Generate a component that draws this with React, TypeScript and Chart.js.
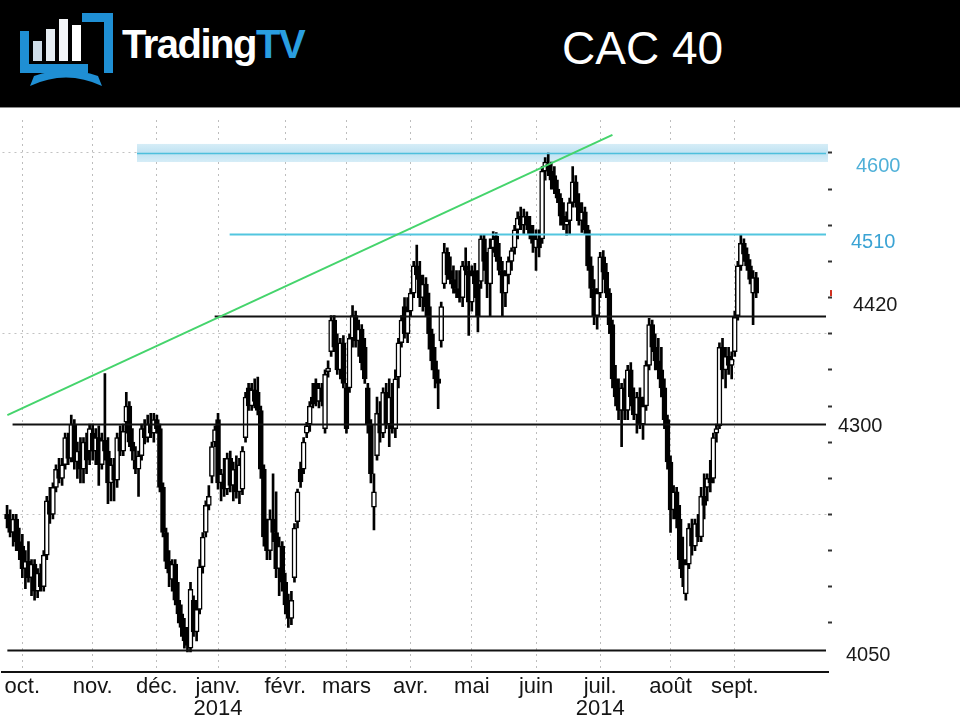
import React, { useEffect, useRef } from 'react';
import { Chart, registerables } from 'chart.js';

Chart.register(...registerables);

// [open, high, low, close]
type Candle = [number, number, number, number];

const sep2013: Candle[] = [
  [4200, 4210, 4185, 4195], [4195, 4205, 4175, 4180], [4180, 4200, 4165, 4195], [4195, 4200, 4160, 4170],
  [4170, 4185, 4150, 4160],
];
const oct2013: Candle[] = [
  [4165, 4178, 4130, 4140], [4140, 4160, 4118, 4148], [4148, 4170, 4125, 4130], [4130, 4150, 4110, 4145],
  [4145, 4150, 4105, 4115], [4115, 4140, 4108, 4135], [4135, 4145, 4115, 4120], [4120, 4160, 4115, 4155],
  [4155, 4220, 4150, 4215], [4215, 4230, 4190, 4200], [4200, 4235, 4195, 4230], [4230, 4255, 4225, 4250],
  [4250, 4262, 4235, 4240], [4240, 4262, 4232, 4255], [4255, 4290, 4250, 4285], [4285, 4290, 4255, 4262],
  [4262, 4310, 4258, 4300], [4300, 4305, 4250, 4258], [4258, 4280, 4240, 4270], [4270, 4285, 4235, 4250],
  [4250, 4285, 4235, 4280], [4280, 4290, 4245, 4260], [4270, 4300, 4255, 4295],
];
const nov2013: Candle[] = [
  [4290, 4300, 4260, 4270], [4270, 4295, 4255, 4285], [4285, 4298, 4232, 4255], [4255, 4290, 4250, 4282],
  [4282, 4356, 4260, 4270], [4270, 4285, 4212, 4235], [4235, 4262, 4215, 4255], [4255, 4262, 4215, 4238],
  [4238, 4290, 4230, 4285], [4285, 4298, 4265, 4270], [4270, 4300, 4265, 4292], [4302, 4335, 4290, 4320],
  [4320, 4325, 4275, 4280], [4280, 4295, 4260, 4270], [4260, 4275, 4245, 4250], [4250, 4270, 4220, 4265],
  [4265, 4300, 4260, 4295], [4295, 4305, 4278, 4285], [4285, 4310, 4280, 4300], [4300, 4312, 4285, 4290],
  [4290, 4312, 4280, 4305],
];
const dec2013: Candle[] = [
  [4305, 4310, 4290, 4295], [4295, 4300, 4225, 4230], [4230, 4235, 4175, 4180], [4180, 4185, 4140, 4148],
  [4148, 4160, 4120, 4135], [4128, 4150, 4115, 4145], [4145, 4150, 4100, 4105], [4105, 4125, 4080, 4090],
  [4090, 4100, 4065, 4075], [4075, 4085, 4052, 4060], [4060, 4075, 4048, 4055], [4052, 4125, 4048, 4117],
  [4105, 4110, 4065, 4070], [4070, 4105, 4060, 4095], [4095, 4150, 4090, 4142], [4142, 4180, 4135, 4175],
  [4180, 4215, 4175, 4210], [4210, 4232, 4205, 4220], [4242, 4280, 4235, 4275], [4280, 4298, 4275, 4294],
];
const jan2014: Candle[] = [
  [4305, 4312, 4228, 4235], [4235, 4250, 4215, 4245], [4245, 4262, 4220, 4228], [4228, 4268, 4222, 4262],
  [4262, 4270, 4225, 4232], [4232, 4258, 4215, 4250], [4250, 4265, 4218, 4225], [4225, 4262, 4212, 4255],
  [4228, 4275, 4222, 4270], [4285, 4335, 4280, 4330], [4340, 4345, 4315, 4320], [4320, 4345, 4315, 4338],
  [4338, 4350, 4318, 4325], [4335, 4352, 4310, 4315], [4315, 4320, 4240, 4250], [4250, 4255, 4165, 4175],
  [4175, 4195, 4150, 4160], [4160, 4205, 4150, 4195], [4195, 4245, 4170, 4180], [4180, 4225, 4130, 4140],
  [4140, 4175, 4110, 4165], [4165, 4170, 4115, 4125],
];
const feb2014: Candle[] = [
  [4125, 4135, 4090, 4100], [4100, 4112, 4075, 4085], [4085, 4115, 4078, 4105], [4130, 4190, 4125, 4185],
  [4192, 4228, 4185, 4225], [4250, 4258, 4230, 4236], [4250, 4285, 4245, 4280], [4290, 4302, 4285, 4298],
  [4300, 4325, 4292, 4320], [4330, 4345, 4318, 4322], [4345, 4350, 4320, 4325], [4325, 4345, 4318, 4340],
  [4340, 4345, 4320, 4325], [4295, 4360, 4290, 4355], [4358, 4370, 4352, 4362], [4380, 4420, 4375, 4415],
  [4415, 4420, 4380, 4385], [4385, 4400, 4355, 4360], [4360, 4395, 4350, 4390], [4390, 4398, 4340, 4345],
];
const mar2014: Candle[] = [
  [4340, 4345, 4290, 4295], [4340, 4400, 4335, 4395], [4395, 4431, 4385, 4420], [4420, 4425, 4385, 4392],
  [4392, 4415, 4375, 4405], [4405, 4410, 4360, 4368], [4385, 4395, 4345, 4350], [4340, 4345, 4290, 4300],
  [4300, 4305, 4235, 4245], [4208, 4245, 4183, 4225], [4265, 4330, 4260, 4312], [4312, 4325, 4280, 4290],
  [4290, 4340, 4285, 4335], [4335, 4345, 4295, 4300], [4300, 4350, 4275, 4330], [4330, 4345, 4290, 4295],
  [4295, 4360, 4285, 4350], [4352, 4395, 4340, 4390], [4390, 4420, 4385, 4415], [4430, 4440, 4395, 4400],
  [4400, 4440, 4390, 4425],
];
const apr2014: Candle[] = [
  [4425, 4450, 4420, 4445], [4445, 4480, 4440, 4475], [4475, 4498, 4460, 4465], [4465, 4480, 4430, 4440],
  [4440, 4465, 4425, 4455], [4455, 4462, 4420, 4430], [4430, 4445, 4383, 4400], [4400, 4405, 4360, 4370],
  [4370, 4385, 4340, 4350], [4350, 4360, 4317, 4345], [4392, 4435, 4385, 4430], [4455, 4500, 4450, 4490],
  [4490, 4495, 4460, 4465], [4470, 4485, 4455, 4460], [4460, 4475, 4445, 4450], [4450, 4470, 4440, 4445],
  [4445, 4470, 4435, 4440], [4440, 4480, 4430, 4475], [4475, 4495, 4465, 4470], [4470, 4480, 4398, 4435],
];
const may2014: Candle[] = [
  [4435, 4475, 4425, 4465], [4470, 4478, 4440, 4455], [4455, 4470, 4402, 4420], [4458, 4510, 4450, 4505],
  [4505, 4510, 4470, 4480], [4480, 4490, 4440, 4455], [4455, 4505, 4420, 4495], [4495, 4513, 4490, 4505],
  [4508, 4512, 4480, 4485], [4485, 4500, 4465, 4470], [4470, 4480, 4420, 4445], [4445, 4470, 4430, 4465],
  [4465, 4485, 4455, 4480], [4480, 4495, 4470, 4492], [4495, 4520, 4488, 4515], [4515, 4535, 4505, 4528],
  [4530, 4540, 4515, 4520], [4520, 4538, 4510, 4530], [4530, 4535, 4515, 4520], [4520, 4530, 4505, 4510],
  [4510, 4520, 4490, 4500],
];
const jun2014: Candle[] = [
  [4495, 4515, 4470, 4505], [4505, 4515, 4485, 4495], [4505, 4585, 4500, 4580], [4580, 4595, 4570, 4590],
  [4588, 4600, 4575, 4580], [4580, 4590, 4560, 4570], [4575, 4585, 4555, 4560], [4560, 4570, 4545, 4550],
  [4550, 4555, 4520, 4530], [4530, 4545, 4515, 4520], [4520, 4535, 4509, 4525], [4525, 4550, 4510, 4545],
  [4545, 4585, 4540, 4568], [4568, 4575, 4540, 4545], [4545, 4555, 4520, 4525], [4525, 4545, 4512, 4535],
  [4535, 4540, 4510, 4515], [4515, 4520, 4470, 4475], [4475, 4485, 4440, 4450], [4450, 4460, 4410, 4420],
  [4420, 4450, 4405, 4445],
];
const jul2014: Candle[] = [
  [4445, 4490, 4440, 4485], [4485, 4492, 4460, 4468], [4468, 4478, 4440, 4445], [4445, 4450, 4400, 4410],
  [4410, 4415, 4340, 4350], [4350, 4365, 4320, 4330], [4330, 4350, 4305, 4315], [4315, 4345, 4275, 4340],
  [4340, 4350, 4305, 4315], [4315, 4365, 4305, 4360], [4360, 4368, 4320, 4330], [4330, 4340, 4305, 4310],
  [4310, 4335, 4290, 4330], [4330, 4340, 4295, 4300], [4300, 4330, 4283, 4320], [4320, 4370, 4315, 4365],
  [4365, 4417, 4360, 4410], [4410, 4415, 4380, 4385], [4385, 4400, 4360, 4370], [4370, 4395, 4350, 4360],
  [4360, 4385, 4330, 4340], [4340, 4350, 4295, 4305], [4305, 4310, 4250, 4258],
];
const aug2014: Candle[] = [
  [4258, 4265, 4180, 4205], [4205, 4232, 4195, 4225], [4225, 4230, 4185, 4195], [4195, 4210, 4140, 4150],
  [4150, 4175, 4120, 4130], [4112, 4150, 4105, 4145], [4145, 4190, 4140, 4185], [4185, 4195, 4155, 4165],
  [4165, 4195, 4160, 4190], [4190, 4200, 4170, 4175], [4175, 4230, 4170, 4220], [4220, 4245, 4195, 4210],
  [4230, 4245, 4215, 4240], [4240, 4260, 4225, 4235], [4240, 4290, 4235, 4285], [4290, 4300, 4280, 4295],
  [4298, 4390, 4295, 4385], [4385, 4395, 4350, 4360], [4360, 4385, 4340, 4375], [4375, 4385, 4355, 4365],
  [4365, 4380, 4350, 4372],
];
const sep2014: Candle[] = [
  [4380, 4425, 4375, 4418], [4420, 4480, 4415, 4475], [4475, 4510, 4470, 4500], [4500, 4505, 4480, 4488],
  [4488, 4495, 4470, 4475], [4475, 4482, 4455, 4460], [4445, 4470, 4410, 4462], [4462, 4468, 4440, 4445],
];

const MONTH_BLOCKS: Candle[][] = [
  sep2013, oct2013, nov2013, dec2013, jan2014, feb2014, mar2014,
  apr2014, may2014, jun2014, jul2014, aug2014, sep2014,
];
const MONTH_NAMES = ['', 'oct.', 'nov.', 'déc.', 'janv.', 'févr.', 'mars', 'avr.', 'mai', 'juin', 'juil.', 'août', 'sept.'];
const YEAR_NAMES = ['', '', '', '', '2014', '', '', '', '', '', '2014', '', ''];

// empty days before / after the candles on the time axis
const LEAD_SLOTS = 1;
const TRAIL_SLOTS = 23;

// drawn levels (price) and where (slot on the time axis) they start
const SUPPORT_LEVELS = [
  { value: 4050, from: 1.1 },
  { value: 4300, from: 2.8 },
  { value: 4420, from: 68.9 },
];
const RESIST_LEVEL = { value: 4510, from: 73.8 };
const TOP_LEVEL = { value: 4600, from: 43.5, halfBand: 10 };
const TREND_LINE = { from: 1.1, fromValue: 4310, to: 199, toValue: 4620 };

const Y_MIN = 4025.65;
const Y_MAX = 4636.5;

type Slot = Candle | null;
const slots: Slot[] = [];
const tickText: (string | string[])[] = [];
for (let k = 0; k < LEAD_SLOTS; k++) { slots.push(null); tickText.push(''); }
MONTH_BLOCKS.forEach((block, m) => {
  block.forEach((c, d) => {
    slots.push(c);
    if (d === 0 && MONTH_NAMES[m]) {
      tickText.push(YEAR_NAMES[m] ? [MONTH_NAMES[m], YEAR_NAMES[m]] : MONTH_NAMES[m]);
    } else tickText.push('');
  });
});
for (let k = 0; k < TRAIL_SLOTS; k++) { slots.push(null); tickText.push(''); }

const labels = slots.map((_, k) => `d${k}`);
const wickData = slots.map((c) => (c ? [c[2], c[1]] : null));
const bodyData = slots.map((c) => (c ? [c[0], c[3]] : null));
const bodyFill = slots.map((c) => (c && c[3] >= c[0] ? '#ffffff' : '#000000'));
const lastCandle = sep2014[sep2014.length - 1];

const FONT = 'Arial, "Liberation Sans", sans-serif';

const overlayPlugin = {
  id: 'overlay',
  beforeDatasetsDraw(chart: any) {
    const { ctx, chartArea: a, scales } = chart;
    const x = scales.x;
    const y = scales.y;
    ctx.save();
    ctx.beginPath();
    ctx.rect(a.left, a.top, a.right - a.left, a.bottom - a.top);
    ctx.clip();
    const bx = x.getPixelForValue(TOP_LEVEL.from);
    const y1 = y.getPixelForValue(TOP_LEVEL.value + TOP_LEVEL.halfBand);
    const y2 = y.getPixelForValue(TOP_LEVEL.value - TOP_LEVEL.halfBand);
    const g = ctx.createLinearGradient(0, y1, 0, y2);
    g.addColorStop(0, '#d6edf7');
    g.addColorStop(0.5, '#bfe2f2');
    g.addColorStop(1, '#d6edf7');
    ctx.fillStyle = g;
    ctx.fillRect(bx, y1, a.right - bx, y2 - y1);
    ctx.restore();
  },
  afterDatasetsDraw(chart: any) {
    const { ctx, chartArea: a, scales } = chart;
    const x = scales.x;
    const y = scales.y;
    ctx.save();
    ctx.beginPath();
    ctx.rect(a.left, a.top - 20, a.right - a.left, a.bottom - a.top + 20);
    ctx.clip();
    const hline = (value: number, from: number, color: string, w: number) => {
      const py = Math.round(y.getPixelForValue(value)) + 0.5;
      ctx.strokeStyle = color;
      ctx.lineWidth = w;
      ctx.beginPath();
      ctx.moveTo(x.getPixelForValue(from), py);
      ctx.lineTo(a.right - 2, py);
      ctx.stroke();
    };
    hline(TOP_LEVEL.value, TOP_LEVEL.from, '#4dbfdc', 1.5);
    hline(RESIST_LEVEL.value, RESIST_LEVEL.from, '#52c6df', 2);
    SUPPORT_LEVELS.forEach((l) => hline(l.value, l.from, '#111111', 2));
    // trend line
    ctx.strokeStyle = '#45d46c';
    ctx.lineWidth = 2;
    ctx.beginPath();
    ctx.moveTo(x.getPixelForValue(TREND_LINE.from), y.getPixelForValue(TREND_LINE.fromValue));
    ctx.lineTo(x.getPixelForValue(TREND_LINE.to), y.getPixelForValue(TREND_LINE.toValue));
    ctx.stroke();
    ctx.restore();
  },
  afterDraw(chart: any) {
    const { ctx, chartArea: a, scales } = chart;
    const y = scales.y;
    ctx.save();
    ctx.font = `20px ${FONT}`;
    ctx.textBaseline = 'middle';
    ctx.textAlign = 'left';
    const label = (value: number, dx: number, dy: number, color: string) => {
      ctx.fillStyle = color;
      ctx.fillText(String(value), a.right + dx, y.getPixelForValue(value) + dy);
    };
    label(TOP_LEVEL.value, 28, 14, '#4fb0d8');
    label(RESIST_LEVEL.value, 23, 8, '#3aa3d4');
    label(SUPPORT_LEVELS[2].value, 25, -10, '#1a1a1a');
    label(SUPPORT_LEVELS[1].value, 10, 2, '#1a1a1a');
    label(SUPPORT_LEVELS[0].value, 18, 5, '#1a1a1a');
    // last price marker
    ctx.fillStyle = '#d03020';
    ctx.fillRect(a.right + 2, y.getPixelForValue(lastCandle[3]) - 3, 2, 6);
    ctx.restore();
  },
};

function CandleChart() {
  const ref = useRef<HTMLCanvasElement | null>(null);
  useEffect(() => {
    if (!ref.current) return;
    const chart = new Chart(ref.current, {
      type: 'bar',
      data: {
        labels,
        datasets: [
          {
            label: 'body',
            data: bodyData as any,
            backgroundColor: bodyFill,
            borderColor: '#000000',
            borderWidth: 1.5,
            borderSkipped: false,
            barThickness: 5,
            minBarLength: 2,
            grouped: false,
            order: 0,
          } as any,
          {
            label: 'wick',
            data: wickData as any,
            backgroundColor: '#000000',
            borderWidth: 0,
            barThickness: 2,
            grouped: false,
            order: 1,
          } as any,
        ],
      },
      options: {
        animation: false,
        responsive: true,
        maintainAspectRatio: false,
        layout: { padding: { top: 12, left: 0, right: 0, bottom: 0 } },
        plugins: { legend: { display: false }, tooltip: { enabled: false } },
        scales: {
          x: {
            type: 'category',
            offset: true,
            grid: {
              offset: false,
              drawTicks: false,
              lineWidth: 1,
              color: (c: any) => (tickText[c.index] ? '#bdbdbd' : 'rgba(0,0,0,0)'),
            },
            border: { display: true, color: '#111111', width: 2, dash: [2, 4] },
            ticks: {
              autoSkip: false,
              maxRotation: 0,
              minRotation: 0,
              padding: 4,
              color: '#151515',
              font: { family: FONT, size: 22, lineHeight: 1.0 },
              callback: (_v: any, i: number) => tickText[i],
            },
            afterFit: (s: any) => { s.height = 48; },
          },
          y: {
            type: 'linear',
            position: 'right',
            min: Y_MIN,
            max: Y_MAX,
            ticks: { display: false, stepSize: 40 },
            afterBuildTicks: (s: any) => { s.ticks = s.ticks.filter((t: any) => Math.round(t.value) % 40 === 0); },
            grid: {
              drawTicks: true,
              tickLength: 4,
              tickWidth: 2,
              tickColor: '#333333',
              lineWidth: 1,
              color: (c: any) => (c.tick && Math.round(c.tick.value) % 200 === 0 ? '#c2c2c2' : 'rgba(0,0,0,0)'),
            },
            border: { display: false, dash: [2, 4] },
            afterFit: (s: any) => { s.width = 132; },
          },
        },
      } as any,
      plugins: [overlayPlugin],
    });
    return () => chart.destroy();
  }, []);
  return <canvas ref={ref} />;
}

function Logo() {
  return (
    <svg width="98" height="76" viewBox="0 0 98 76" style={{ position: 'absolute', left: 18, top: 11 }}>
      <path d="M2 20 H11 V53 H70 V62 H2 Z" fill="#1f8fd4" />
      <path d="M64 2 H95 V62 H86 V11 H64 Z" fill="#1f8fd4" />
      <rect x="15" y="30" width="9" height="20" fill="#cfdde8" />
      <rect x="28" y="18" width="9" height="32" fill="#e6edf2" />
      <rect x="41" y="8" width="9" height="42" fill="#f4f6f8" />
      <rect x="54" y="14" width="9" height="36" fill="#ffffff" />
      <path d="M12 75 Q48 58 84 75 L80 65 Q48 54 16 65 Z" fill="#1f8fd4" />
    </svg>
  );
}

export default function App() {
  useEffect(() => {
    document.body.style.margin = '0';
  }, []);
  return (
    <div style={{ position: 'absolute', left: 0, top: 0, width: 960, height: 720, background: '#ffffff', overflow: 'hidden', fontFamily: FONT }}>
      <div style={{ position: 'absolute', left: 0, top: 0, width: 960, height: 107, background: '#000000', borderBottom: '1px solid #8a8a8a' }}>
        <Logo />
        <div style={{ position: 'absolute', left: 122, top: 24, fontSize: 40, lineHeight: '40px', fontWeight: 700, letterSpacing: -1.5, whiteSpace: 'nowrap' }}>
          <span style={{ color: '#ffffff' }}>Trading</span>
          <span style={{ color: '#2a9ee0' }}>TV</span>
        </div>
        <div style={{ position: 'absolute', left: 562, top: 25, fontSize: 46, lineHeight: '46px', color: '#ffffff', whiteSpace: 'nowrap' }}>
          CAC 40
        </div>
      </div>
      <div style={{ position: 'absolute', left: 0, top: 108, width: 960, height: 612 }}>
        <CandleChart />
      </div>
    </div>
  );
}
